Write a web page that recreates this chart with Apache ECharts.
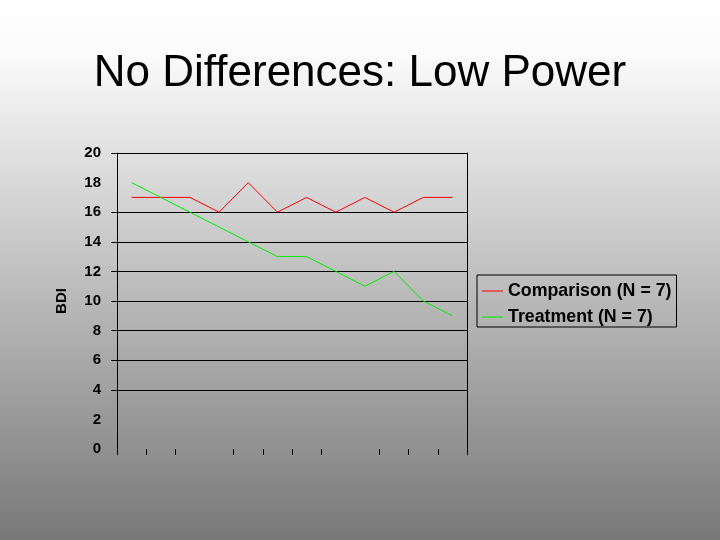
<!DOCTYPE html>
<html>
<head>
<meta charset="utf-8">
<script src="https://cdn.jsdelivr.net/npm/echarts@6/dist/echarts.min.js"></script>
<style>
html,body{margin:0;padding:0;}
#c{width:720px;height:540px;}
</style>
</head>
<body>
<div id="c"></div>
<script>
var categories = ['1','2','3','4','5','6','7','8','9','10','11','12'];
var comparison = [17,17,17,16,18,16,17,16,17,16,17,17];
var treatment  = [18,17,16,15,14,13,13,12,11,12,10,9];
var yLabelValues = [0,2,4,6,8,10,12,14,16,18,20];
var yGridValues = [4,6,8,10,12,14,16,20];
var hiddenXTicks = [3,8];

var FONT = 'Arial, "Liberation Sans", sans-serif';
var chart = echarts.init(document.getElementById('c'));
chart.setOption({
  animation: false,
  backgroundColor: {
    type: 'linear', x: 0, y: 0, x2: 0, y2: 1,
    colorStops: [
      {offset: 0, color: '#ffffff'},
      {offset: 0.1, color: '#fbfbfb'},
      {offset: 1, color: '#787878'}
    ]
  },
  title: {
    text: 'No Differences: Low Power',
    left: 'center',
    top: 47,
    textStyle: {fontFamily: FONT, fontSize: 44, fontWeight: 'normal', color: '#000'}
  },
  legend: {
    orient: 'vertical',
    left: 477,
    top: 275,
    padding: [7, 5, 1, 5],
    itemGap: 8,
    itemWidth: 21,
    itemHeight: 1,
    icon: 'rect',
    borderColor: '#000',
    borderWidth: 1,
    borderRadius: 0,
    textStyle: {fontFamily: FONT, fontSize: 17.8, fontWeight: 'bold', color: '#000'},
    data: ['Comparison (N = 7)', 'Treatment (N = 7)']
  },
  grid: {left: 117, right: 253, top: 153, bottom: 91, containLabel: false},
  xAxis: {
    type: 'category',
    data: categories,
    boundaryGap: true,
    axisLine: {show: false},
    axisLabel: {show: false},
    axisTick: {
      show: true,
      length: 6,
      interval: function (idx) { return hiddenXTicks.indexOf(idx) < 0; },
      lineStyle: {color: '#000', width: 1}
    },
    splitLine: {show: false}
  },
  yAxis: [{
    type: 'value',
    min: 0, max: 20, interval: 2,
    name: 'BDI',
    nameLocation: 'middle',
    nameGap: 48,
    nameTextStyle: {fontFamily: FONT, fontSize: 15, fontWeight: 'bold', color: '#000'},
    axisLine: {show: true, lineStyle: {color: '#000', width: 1}},
    axisTick: {show: true, length: 6, customValues: yGridValues, lineStyle: {color: '#000'}},
    axisLabel: {customValues: yLabelValues, margin: 16, fontFamily: FONT, fontSize: 15, fontWeight: 'bold', color: '#000'},
    splitLine: {show: true, lineStyle: {color: '#000', width: 1}}
  }, {
    type: 'value',
    position: 'right',
    min: 0, max: 20, interval: 2,
    axisLine: {show: true, lineStyle: {color: '#000', width: 1}},
    axisTick: {show: false},
    axisLabel: {show: false},
    splitLine: {show: false}
  }],
  series: [{
    name: 'Comparison (N = 7)',
    type: 'line',
    data: comparison,
    symbol: 'none',
    lineStyle: {color: '#ff0000', width: 1},
    itemStyle: {color: '#ff0000'}
  }, {
    name: 'Treatment (N = 7)',
    type: 'line',
    data: treatment,
    symbol: 'none',
    lineStyle: {color: '#00ee00', width: 1},
    itemStyle: {color: '#00ee00'}
  }]
});
</script>
</body>
</html>
